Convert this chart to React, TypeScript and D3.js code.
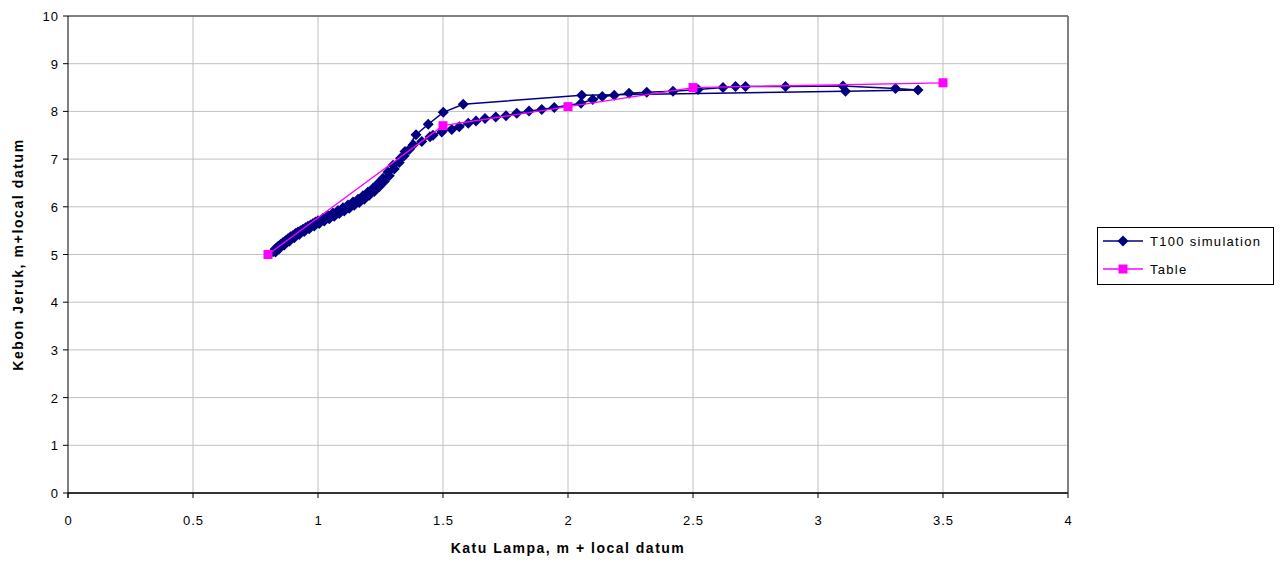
import React from "react";
import * as d3 from "d3";

// T100 simulation: rising branch, flat top, then falling branch back down
const simX = [
  0.82, 0.83, 0.84, 0.85, 0.86, 0.87, 0.88, 0.89, 0.9, 0.91, 0.92, 0.93, 0.94, 0.95, 0.96, 0.97, 0.98, 0.99, 1.0,
  1.02, 1.04, 1.06, 1.08, 1.1, 1.12, 1.14, 1.16, 1.18, 1.2, 1.22, 1.24, 1.26, 1.28, 1.3, 1.33,
  1.348, 1.392, 1.441, 1.501, 1.581, 2.055, 3.11, 3.4,
  3.31, 3.1, 2.87, 2.71, 2.67, 2.62, 2.52, 2.42, 2.315, 2.244, 2.185, 2.137, 2.099, 2.052, 1.945, 1.895,
  1.844, 1.795, 1.752, 1.711, 1.668, 1.632, 1.601, 1.565, 1.535, 1.495, 1.46, 1.448, 1.415, 1.381,
  1.365, 1.345, 1.325, 1.305, 1.285, 1.265, 1.245, 1.225, 1.205, 1.185, 1.165, 1.145, 1.125, 1.105,
  1.085, 1.065, 1.045, 1.025, 1.005, 0.985, 0.965, 0.945, 0.925, 0.905, 0.885, 0.865, 0.845, 0.83,
];
const simY = [
  5.06, 5.12, 5.17, 5.21, 5.25, 5.29, 5.33, 5.37, 5.4, 5.44, 5.47, 5.5, 5.53, 5.56, 5.59, 5.62, 5.65, 5.68, 5.71,
  5.76, 5.82, 5.87, 5.92, 5.98, 6.04, 6.1, 6.16, 6.23, 6.31, 6.39, 6.49, 6.6, 6.73, 6.87, 7.02,
  7.16, 7.51, 7.73, 7.98, 8.15, 8.34, 8.42, 8.45,
  8.48, 8.53, 8.52, 8.52, 8.52, 8.5, 8.46, 8.42, 8.4, 8.38, 8.34, 8.31, 8.25, 8.17, 8.08, 8.04,
  8.01, 7.96, 7.91, 7.88, 7.85, 7.8, 7.75, 7.68, 7.62, 7.57, 7.5, 7.47, 7.37, 7.3,
  7.2, 7.07, 6.93, 6.79, 6.65, 6.53, 6.42, 6.32, 6.24, 6.16, 6.09, 6.03, 5.97, 5.91,
  5.86, 5.8, 5.75, 5.7, 5.65, 5.6, 5.54, 5.48, 5.42, 5.35, 5.28, 5.2, 5.12, 5.05,
];

// Table
const tableX = [0.8, 1.5, 2.0, 2.5, 3.5];
const tableY = [5.0, 7.7, 8.1, 8.5, 8.6];

const xTicks = [0, 0.5, 1, 1.5, 2, 2.5, 3, 3.5, 4];
const yTicks = [0, 1, 2, 3, 4, 5, 6, 7, 8, 9, 10];

const seriesNames = ["T100 simulation", "Table"];

const NAVY = "#000080";
const PINK = "#ff00ff";
const FONT = "Liberation Sans, Arial, sans-serif";

export default function App() {
  const width = 1280;
  const height = 561;
  const left = 68;
  const right = 1068;
  const top = 16;
  const bottom = 493;

  const x = d3.scaleLinear().domain([0, 4]).range([left, right]);
  const y = d3.scaleLinear().domain([0, 10]).range([bottom, top]);

  const sim = simX.map((v, i) => [v, simY[i]] as [number, number]);
  const table = tableX.map((v, i) => [v, tableY[i]] as [number, number]);

  const line = d3
    .line<[number, number]>()
    .x((d) => x(d[0]))
    .y((d) => y(d[1]));

  const diamond = (cx: number, cy: number, r = 5.5) =>
    `M${cx},${cy - r}L${cx + r},${cy}L${cx},${cy + r}L${cx - r},${cy}Z`;

  return (
    <svg
      width={width}
      height={height}
      style={{ position: "absolute", left: 0, top: 0, background: "#fff" }}
      fontFamily={FONT}
    >
      {/* grid */}
      {xTicks.slice(1).map((t) => (
        <line key={"gx" + t} x1={x(t)} x2={x(t)} y1={top} y2={bottom} stroke="#c0c0c0" strokeWidth={1} />
      ))}
      {yTicks.slice(1).map((t) => (
        <line key={"gy" + t} x1={left} x2={right} y1={y(t)} y2={y(t)} stroke="#c0c0c0" strokeWidth={1} />
      ))}

      {/* plot border top & right */}
      <line x1={left} x2={right} y1={top} y2={top} stroke="#808080" strokeWidth={2} />
      <line x1={right} x2={right} y1={top} y2={bottom} stroke="#808080" strokeWidth={2} />

      {/* axes */}
      <line x1={left} x2={right} y1={bottom} y2={bottom} stroke="#333" strokeWidth={2} />
      <line x1={left} x2={left} y1={top} y2={bottom + 5} stroke="#000" strokeWidth={1} />
      {yTicks.map((t) => (
        <g key={"yt" + t}>
          <line x1={left - 5} x2={left} y1={y(t)} y2={y(t)} stroke="#000" />
          <text x={left - 9} y={y(t) + 5} fontSize={13} letterSpacing={1} textAnchor="end">
            {t}
          </text>
        </g>
      ))}
      {xTicks.map((t) => (
        <g key={"xt" + t}>
          <line x1={x(t)} x2={x(t)} y1={bottom} y2={bottom + 5} stroke="#000" />
          <text x={x(t) + 0.5} y={bottom + 32} fontSize={13} letterSpacing={1} textAnchor="middle">
            {t}
          </text>
        </g>
      ))}

      {/* titles */}
      <text x={568} y={553} fontSize={14} letterSpacing={1.5} fontWeight="bold" textAnchor="middle">
        Katu Lampa, m + local datum
      </text>
      <text
        transform={`translate(23,${(top + bottom) / 2}) rotate(-90)`}
        fontSize={14}
        letterSpacing={1.6}
        fontWeight="bold"
        textAnchor="middle"
      >
        Kebon Jeruk, m+local datum
      </text>

      {/* T100 simulation */}
      <path d={line(sim) || ""} fill="none" stroke={NAVY} strokeWidth={1.5} />
      {sim.map((d, i) => (
        <path key={"s" + i} d={diamond(x(d[0]), y(d[1]))} fill={NAVY} />
      ))}

      {/* Table */}
      <path d={line(table) || ""} fill="none" stroke={PINK} strokeWidth={1.3} />
      {table.map((d, i) => (
        <rect key={"t" + i} x={x(d[0]) - 4.5} y={y(d[1]) - 4.5} width={9} height={9} fill={PINK} />
      ))}

      {/* legend */}
      <rect x={1097.5} y={227.5} width={176} height={57} fill="#fff" stroke="#000" strokeWidth={1} />
      <line x1={1103} x2={1143} y1={241} y2={241} stroke={NAVY} strokeWidth={1.5} />
      <path d={diamond(1123, 241)} fill={NAVY} />
      <text x={1150} y={246} fontSize={13} letterSpacing={1.3}>
        {seriesNames[0]}
      </text>
      <line x1={1103} x2={1143} y1={269} y2={269} stroke={PINK} strokeWidth={1.3} />
      <rect x={1118.5} y={264.5} width={9} height={9} fill={PINK} />
      <text x={1150} y={274} fontSize={13} letterSpacing={1.3}>
        {seriesNames[1]}
      </text>
    </svg>
  );
}
